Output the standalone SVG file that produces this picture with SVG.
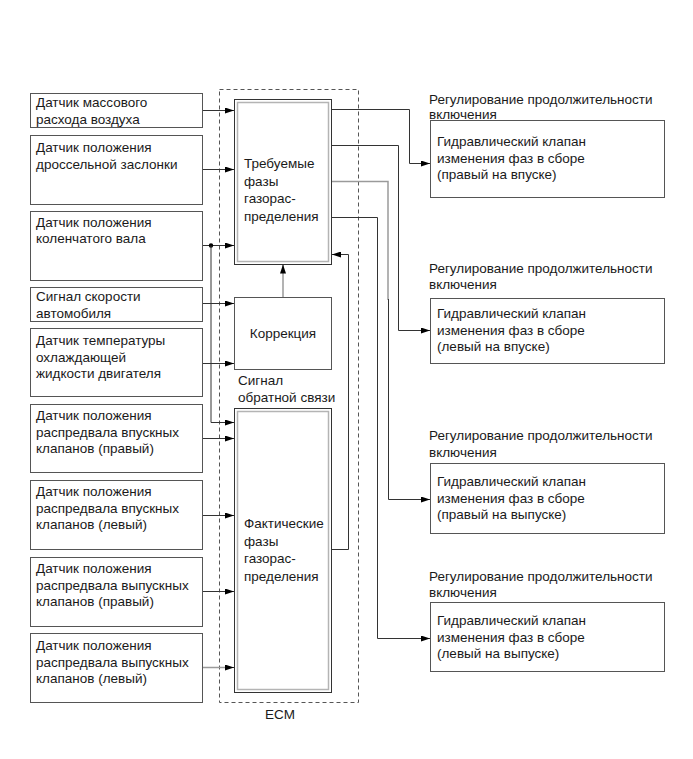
<svg xmlns="http://www.w3.org/2000/svg" width="693" height="759" viewBox="0 0 693 759">
<style>
text{font-family:"Liberation Sans",Arial,sans-serif;font-size:13.5px;fill:#1a1a1a}
.box{fill:#fff;stroke:#555;stroke-width:1}
.outer{fill:#fff;stroke:#333;stroke-width:1}
.inner{fill:none;stroke:#b4b4b4;stroke-width:1.5}
.ln{fill:none;stroke:#333;stroke-width:1}
.lg{fill:none;stroke:#9a9a9a;stroke-width:1.5}
.ecm{fill:none;stroke:#555;stroke-width:1;stroke-dasharray:4 3}
</style>
<defs>
<marker id="ah" markerUnits="userSpaceOnUse" markerWidth="10" markerHeight="6" refX="9" refY="3" orient="auto">
<path d="M0,0 L9,3 L0,6 z" fill="#000"/>
</marker>
</defs>
<rect width="693" height="759" fill="#fff"/>

<g id="ecm">
<rect class="ecm" x="219.5" y="89.5" width="139" height="613"/>
<text x="280" y="719" text-anchor="middle">ECM</text>
</g>

<g id="in1"><rect class="box" x="30.5" y="93.5" width="172" height="34"/>
<text x="36" y="107">Датчик массового</text><text x="36" y="123.5">расхода воздуха</text></g>
<g id="in2"><rect class="box" x="30.5" y="135.5" width="172" height="69"/>
<text x="36" y="152">Датчик положения</text><text x="36" y="168.5">дроссельной заслонки</text></g>
<g id="in3"><rect class="box" x="30.5" y="211.5" width="172" height="69"/>
<text x="36" y="226.5">Датчик положения</text><text x="36" y="243">коленчатого вала</text></g>
<g id="in4"><rect class="box" x="30.5" y="287.5" width="172" height="34"/>
<text x="36" y="301">Сигнал скорости</text><text x="36" y="317.5">автомобиля</text></g>
<g id="in5"><rect class="box" x="30.5" y="328.5" width="172" height="68"/>
<text x="36" y="345">Датчик температуры</text><text x="36" y="361.5">охлаждающей</text><text x="36" y="378">жидкости двигателя</text></g>
<g id="in6"><rect class="box" x="30.5" y="404.5" width="172" height="68"/>
<text x="36" y="420">Датчик положения</text><text x="36" y="436.5">распредвала впускных</text><text x="36" y="453">клапанов (правый)</text></g>
<g id="in7"><rect class="box" x="30.5" y="480.5" width="172" height="69"/>
<text x="36" y="496">Датчик положения</text><text x="36" y="512.5">распредвала впускных</text><text x="36" y="529">клапанов (левый)</text></g>
<g id="in8"><rect class="box" x="30.5" y="557.5" width="172" height="69"/>
<text x="36" y="573">Датчик положения</text><text x="36" y="589.5">распредвала выпускных</text><text x="36" y="606">клапанов (правый)</text></g>
<g id="in9"><rect class="box" x="30.5" y="633.5" width="172" height="69"/>
<text x="36" y="650">Датчик положения</text><text x="36" y="666.5">распредвала выпускных</text><text x="36" y="683">клапанов (левый)</text></g>

<g id="required">
<rect class="outer" x="234.5" y="99.5" width="97" height="165"/>
<rect class="inner" x="237.5" y="102.5" width="91" height="159"/>
<text x="244" y="168">Требуемые</text><text x="244" y="185.5">фазы</text><text x="244" y="203">газорас-</text><text x="244" y="220.5">пределения</text>
</g>
<g id="correction">
<rect class="box" x="234.5" y="297.5" width="97" height="72"/>
<text x="283" y="337.5" text-anchor="middle">Коррекция</text>
</g>
<g id="feedback-label">
<text x="238" y="385">Сигнал</text><text x="238" y="401.5">обратной связи</text>
</g>
<g id="actual">
<rect class="outer" x="234.5" y="408.5" width="97" height="284"/>
<rect class="inner" x="237.5" y="411.5" width="91" height="278"/>
<text x="244" y="528">Фактические</text><text x="244" y="545.5">фазы</text><text x="244" y="563">газорас-</text><text x="244" y="580.5">пределения</text>
</g>

<g id="out1">
<text x="429" y="103.5">Регулирование продолжительности</text><text x="429" y="119">включения</text>
<rect class="box" x="430.5" y="120.5" width="234" height="77"/>
<text x="437" y="146">Гидравлический клапан</text><text x="437" y="162.5">изменения фаз в сборе</text><text x="437" y="179">(правый на впуске)</text>
</g>
<g id="out2">
<text x="429" y="273">Регулирование продолжительности</text><text x="429" y="289">включения</text>
<rect class="box" x="430.5" y="298.5" width="234" height="65"/>
<text x="437" y="318">Гидравлический клапан</text><text x="437" y="334.5">изменения фаз в сборе</text><text x="437" y="351">(левый на впуске)</text>
</g>
<g id="out3">
<text x="429" y="440">Регулирование продолжительности</text><text x="429" y="456.5">включения</text>
<rect class="box" x="430.5" y="463.5" width="234" height="70"/>
<text x="437" y="486">Гидравлический клапан</text><text x="437" y="502.5">изменения фаз в сборе</text><text x="437" y="519">(правый на выпуске)</text>
</g>
<g id="out4">
<text x="429" y="580.5">Регулирование продолжительности</text><text x="429" y="596.5">включения</text>
<rect class="box" x="430.5" y="602.5" width="234" height="69"/>
<text x="437" y="625">Гидравлический клапан</text><text x="437" y="641.5">изменения фаз в сборе</text><text x="437" y="658">(левый на выпуске)</text>
</g>

<g id="connectors">
<path class="ln" d="M203,110.5 H234" marker-end="url(#ah)"/>
<path class="ln" d="M203,169.5 H234" marker-end="url(#ah)"/>
<path class="ln" d="M203,245.5 H234" marker-end="url(#ah)"/>
<circle cx="211" cy="245.5" r="2.2" fill="#000"/>
<path class="ln" d="M211,245.5 V422.5 H234" marker-end="url(#ah)"/>
<path class="ln" d="M203,303.5 H234" marker-end="url(#ah)"/>
<path class="ln" d="M203,363.5 H234" marker-end="url(#ah)"/>
<path class="ln" d="M203,438.5 H234" marker-end="url(#ah)"/>
<path class="ln" d="M203,515.5 H234" marker-end="url(#ah)"/>
<path class="ln" d="M203,591.5 H234" marker-end="url(#ah)"/>
<path class="lg" d="M203,667.5 H230"/>
<path class="ln" d="M226,667.5 H234" marker-end="url(#ah)"/>
<path class="lg" d="M283,297 V270"/>
<path class="ln" d="M283,272 V264.5" marker-end="url(#ah)"/>
<path class="ln" d="M332,549.5 H348.5 V254.5 H332" marker-end="url(#ah)"/>
<path class="ln" d="M332,109.5 H409.5 V163.5 H430" marker-end="url(#ah)"/>
<path class="ln" d="M332,145.5 H398.5 V330.5 H430" marker-end="url(#ah)"/>
<path class="lg" d="M332,181.5 H388 V300"/>
<path class="ln" d="M388.5,299 V499.5 H430" marker-end="url(#ah)"/>
<path class="ln" d="M332,217.5 H377.5 V638.5 H430" marker-end="url(#ah)"/>
</g>
</svg>
